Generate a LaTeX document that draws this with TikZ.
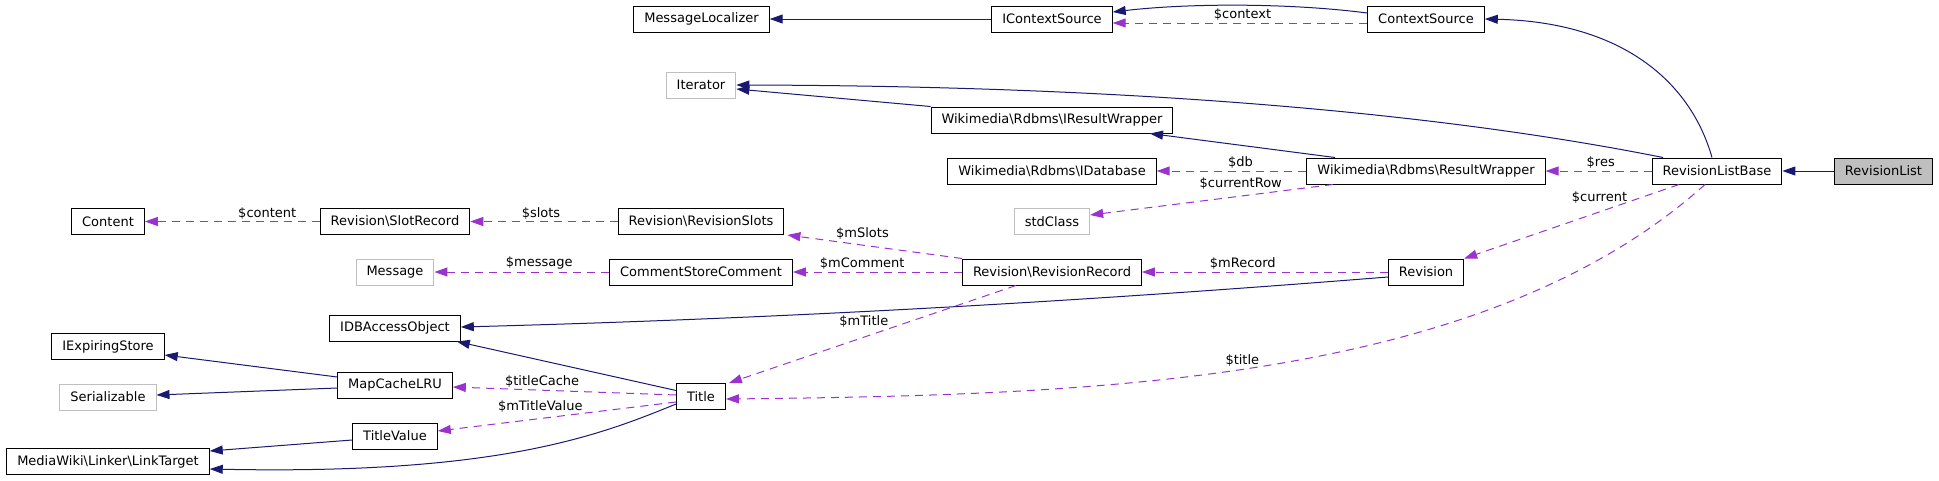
\documentclass[tikz,border=0pt]{standalone}
\usepackage{fontspec}
\setmainfont{DejaVu Sans}
\usetikzlibrary{arrows.meta,positioning}
\definecolor{dnavy}{HTML}{191970}
\definecolor{dorchid}{HTML}{9A32CD}
\definecolor{dgrey}{HTML}{BFBFBF}
\newcommand\gfont{\fontsize{13}{15}\selectfont}
\tikzset{
  cls/.style={draw=black,fill=white,line width=1pt,minimum height=26pt,inner xsep=10.5pt,inner ysep=0pt,font=\gfont},
  ext/.style={cls,draw=dgrey},
  root/.style={cls,fill=dgrey},
  inh/.style={-{Triangle[length=13pt,width=9pt]},line width=1pt,draw=dnavy},
  mem/.style={-{Triangle[length=13pt,width=9pt]},line width=1pt,draw=dorchid,dash pattern=on 8pt off 6pt},
  lbl/.style={font=\gfont,inner sep=0pt,text=black},
}

\begin{document}
\begin{tikzpicture}[x=1pt,y=-1pt]
  \useasboundingbox (0,0) rectangle (1939,480);
  % top rows
  \node[cls] (ml) at (701.5,19) {MessageLocalizer};
  \node[cls] (ics) at (1052,19) {IContextSource};
  \node[cls] (cs) at (1426,19) {ContextSource};
  \node[ext] (it) at (701,85) {Iterator};
  \node[cls] (irw) at (1052,120) {Wikimedia\textbackslash Rdbms\textbackslash IResultWrapper};
  \node[cls] (idbi) at (1052,171) {Wikimedia\textbackslash Rdbms\textbackslash IDatabase};
  \node[cls] (rw) at (1426,171) {Wikimedia\textbackslash Rdbms\textbackslash ResultWrapper};
  \node[cls] (rlb) at (1717,171) {RevisionListBase};
  \node[root] (rl) at (1883.5,171) {RevisionList};
  \node[ext] (std) at (1052,221.5) {stdClass};
  % revision records
  \node[cls] (cont) at (108,221.5) {Content};
  \node[cls] (slot) at (395,221.5) {Revision\textbackslash SlotRecord};
  \node[cls] (slots) at (701,221.5) {Revision\textbackslash RevisionSlots};
  \node[ext] (msg) at (395,272) {Message};
  \node[cls] (csc) at (701,272) {CommentStoreComment};
  \node[cls] (rr) at (1052,272) {Revision\textbackslash RevisionRecord};
  \node[cls] (rev) at (1426,272) {Revision};
  % titles
  \node[cls] (idb) at (395,328) {IDBAccessObject};
  \node[cls] (ies) at (108,346.5) {IExpiringStore};
  \node[cls] (mc) at (395,385) {MapCacheLRU};
  \node[ext] (ser) at (108,397) {Serializable};
  \node[cls] (tt) at (701,396.5) {Title};
  \node[cls] (tv) at (395,436) {TitleValue};
  \node[cls] (lt) at (108,461.5) {MediaWiki\textbackslash Linker\textbackslash LinkTarget};
  % inheritance
  \draw[inh] (rl) -- (rlb);
  \draw[inh] (ics) -- (ml);
  \draw[inh] ([yshift=6pt]cs.west) .. controls (1290,3) and (1190,3) .. ([yshift=7pt]ics.east);
  \draw[inh] ([xshift=-5pt]rlb.north) .. controls (1690,80) and (1620,22) .. (cs.east);
  \draw[inh] ([xshift=-54pt]rlb.north) .. controls (1450,115) and (1150,86) .. (it.east);
  \draw[inh] ([xshift=-91pt]rw.north) -- ([xshift=98pt]irw.south);
  \draw[inh] (irw.north west) -- ([yshift=-4pt]it.east);
  \draw[inh] ([yshift=-5pt]rev.west) .. controls (1100,300) and (800,318) .. ([yshift=1pt]idb.east);
  \draw[inh] ([yshift=6pt]tt.west) -- ([xshift=-4pt]idb.south east);
  \draw[inh] ([yshift=8pt]mc.west) -- ([yshift=-8.5pt]ies.east);
  \draw[inh] ([yshift=-3pt]mc.west) -- ([yshift=2pt]ser.east);
  \draw[inh] ([yshift=-4pt]tv.west) -- ([yshift=10.5pt]lt.east);
  \draw[inh] ([yshift=-7.5pt]tt.west) .. controls (600,435) and (500,475) .. ([yshift=-7.5pt]lt.east);
  % members
  \draw[mem] ([yshift=-4pt]cs.west) -- ([yshift=-4pt]ics.east) node[lbl,pos=0.49,above=2pt] {\$context};
  \draw[mem] (rlb) -- (rw) node[lbl,pos=0.48,above=2pt] {\$res};
  \draw[mem] (rw) -- (idbi) node[lbl,pos=0.44,above=2pt] {\$db};
  \draw[mem] ([xshift=-93pt]rw.south) -- ([yshift=6.5pt]std.east) node[lbl,pos=0.38,above=6pt] {\$currentRow};
  \draw[mem] ([xshift=-38pt]rlb.south) -- (rev.north east) node[lbl,pos=0.37,above=8pt] {\$current};
  \draw[mem] (rev) -- (rr) node[lbl,pos=0.59,above=2pt] {\$mRecord};
  \draw[mem] (rr) -- (csc) node[lbl,pos=0.59,above=2pt] {\$mComment};
  \draw[mem] (csc) -- (msg) node[lbl,pos=0.4,above=2pt] {\$message};
  \draw[mem] ([xshift=-90pt]rr.north) -- ([xshift=3pt]slots.south east) node[lbl,pos=0.57,above=5pt] {\$mSlots};
  \draw[mem] (slots) -- (slot) node[lbl,pos=0.52,above=2pt] {\$slots};
  \draw[mem] (slot) -- (cont) node[lbl,pos=0.3,above=2pt] {\$content};
  \draw[mem] ([xshift=-36pt]rr.south) -- ([xshift=3pt]tt.north east) node[lbl,pos=0.53,above=9pt] {\$mTitle};
  \draw[mem] ([xshift=-12pt]rlb.south) .. controls (1485,382) and (1100,395) .. ([yshift=-2.5pt]tt.east) node[lbl,pos=0.53,above=2pt] {\$title};
  \draw[mem] ([yshift=1.5pt]tt.west) -- ([yshift=-2pt]mc.east) node[lbl,pos=0.6,above=2pt] {\$titleCache};
  \draw[mem] ([yshift=-5.5pt]tt.west) -- ([yshift=5pt]tv.east) node[lbl,pos=0.57,above=6pt] {\$mTitleValue};
\end{tikzpicture}
\end{document}
